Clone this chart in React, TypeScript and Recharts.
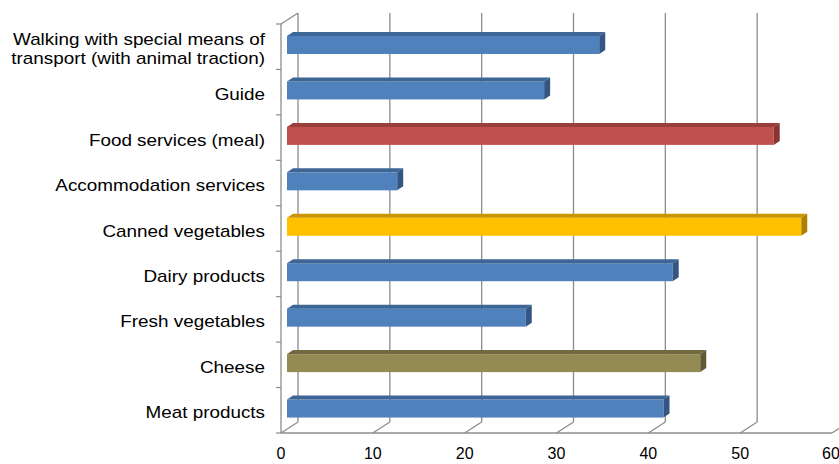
import { BarChart, Bar, XAxis, YAxis, CartesianGrid } from "recharts"

const categories = [
  "Walking with special means of transport (with animal traction)",
  "Guide",
  "Food services (meal)",
  "Accommodation services",
  "Canned vegetables",
  "Dairy products",
  "Fresh vegetables",
  "Cheese",
  "Meat products",
]
const values = [34, 28, 53, 12, 56, 42, 26, 45, 41]
const xTicks = [0, 10, 20, 30, 40, 50, 60]

// front / top / side shades per bar
const blue = ["#4F81BD", "#3D6595", "#345683"]
const red = ["#C0504D", "#9A3D3B", "#873432"]
const yellow = ["#FFC000", "#C99600", "#AD8100"]
const olive = ["#948A54", "#716940", "#615A37"]
const barColors = [blue, blue, red, blue, yellow, blue, blue, olive, blue]

const data = categories.map((name, i) => ({ name, value: values[i] }))

const DX = 17, DY = 11 // wall depth
const BX = 6, BY = 4 // bar depth
const GRID = "#8c8c8c"
const FONT = "'Liberation Sans', Arial, sans-serif"
const PLOT_H = 409
const BAND = PLOT_H / categories.length

function Bar3D(props: any) {
  const { x, y, width, height, index } = props
  const [front, top, side] = barColors[index]
  const fx = x + BX
  const fy = y - 2
  const w = Math.max(width, 0)
  return (
    <g>
      <rect x={fx} y={fy} width={w} height={height} fill={front} />
      <polygon points={`${fx},${fy} ${fx + w},${fy} ${fx + w + BX},${fy - BY} ${fx + BX},${fy - BY}`} fill={top} />
      <polygon points={`${fx + w},${fy} ${fx + w + BX},${fy - BY} ${fx + w + BX},${fy + height - BY} ${fx + w},${fy + height}`} fill={side} />
    </g>
  )
}

function wrap(s: string) {
  if (s.length < 32) return [s]
  const i = s.lastIndexOf(" ", 30)
  return [s.slice(0, i), s.slice(i + 1)]
}

function CatTick(props: any) {
  const { x, y, payload, index, visibleTicksCount } = props
  const lines = wrap(payload.value)
  const y0 = y - ((lines.length - 1) * 19) / 2
  const last = index === visibleTicksCount - 1
  return (
    <g>
      <line x1={x - 5} x2={x} y1={y - BAND / 2} y2={y - BAND / 2} stroke={GRID} strokeWidth={1.2} />
      {last && <line x1={x - 5} x2={x} y1={y + BAND / 2} y2={y + BAND / 2} stroke={GRID} strokeWidth={1.2} />}
      <g transform={`translate(${x - 16},${y0}) scale(1.18,1)`}>
        {lines.map((l, i) => (
          <text key={i} x={0} y={i * 19} dy={8} textAnchor="end" fontSize={16} fontFamily={FONT} fill="#000">{l}</text>
        ))}
      </g>
    </g>
  )
}

function GridLine(props: any) {
  const { x1, y1, y2, index } = props
  return (
    <g key={`v${index}`}>
      <line x1={x1 + DX} x2={x1 + DX} y1={y1 - DY} y2={y2 - DY} stroke={GRID} strokeWidth={1.3} />
      <line x1={x1} x2={x1 + DX} y1={y2} y2={y2 - DY} stroke={GRID} strokeWidth={1.3} />
      {index === 0 && <line x1={x1} x2={x1} y1={y1} y2={y2} stroke={GRID} strokeWidth={1.3} />}
      {index === 0 && <line x1={x1} x2={x1 + DX} y1={y1} y2={y1 - DY} stroke={GRID} strokeWidth={1.3} />}
    </g>
  )
}

export default function App() {
  return (
    <div style={{ position: "absolute", left: 0, top: 0, background: "#fff" }}>
      <BarChart width={839} height={464} data={data} layout="vertical" margin={{ top: 24, right: 7, bottom: 0, left: 0 }}>
        <CartesianGrid horizontal={false} vertical={(p: any) => <GridLine {...p} />} />
        <XAxis type="number" domain={[0, 60]} ticks={xTicks} height={31} tickLine={false}
          axisLine={{ stroke: GRID, strokeWidth: 1.3 }}
          tick={{ fontSize: 16, fontFamily: FONT, fill: "#000" }} tickMargin={9} />
        <YAxis type="category" dataKey="name" width={281} axisLine={false} tickLine={false} tickSize={0} tickMargin={0}
          tick={(p: any) => <CatTick {...p} />} interval={0} />
        <Bar dataKey="value" barSize={18} shape={(p: any) => <Bar3D {...p} />} isAnimationActive={false} />
      </BarChart>
    </div>
  )
}
